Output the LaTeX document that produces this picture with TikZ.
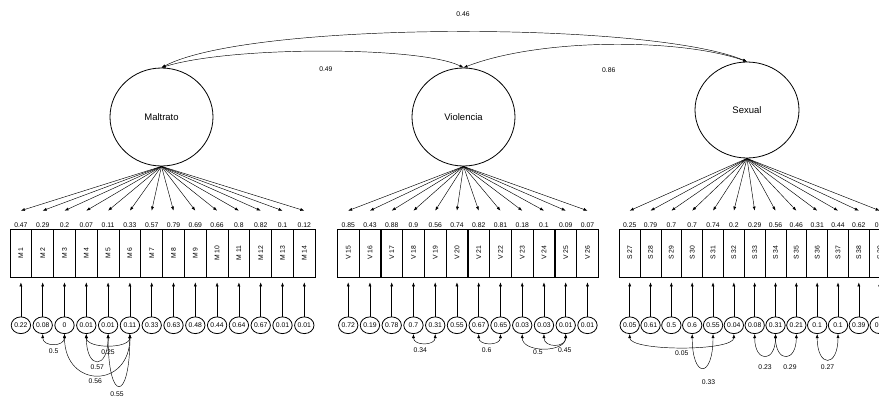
\documentclass[tikz,border=0pt]{standalone}
\usepackage{fontspec}
\setmainfont{Liberation Sans}
\usetikzlibrary{positioning,shapes.geometric,arrows.meta}
\newcommand{\smallnum}{\fontsize{6.8}{7}\selectfont}
\begin{document}
\begin{tikzpicture}[x=1pt,y=1pt,lab/.style={font=\smallnum,inner sep=.5pt}]
    \tikzstyle{lat} = [ellipse, draw, line width=.8pt, minimum width=103pt, minimum height=98pt, inner sep=0, font=\fontsize{9.5}{11}\selectfont]
    \tikzstyle{obs} = [rectangle, draw, line width=.7pt, minimum width=21.8pt, minimum height=48pt, inner sep=0, font=\smallnum, label distance=.5pt]
    \tikzstyle{sobs} = [obs, minimum width=20.83pt]
    \tikzstyle{err} = [ellipse, draw, line width=.8pt, minimum width=19.4pt, minimum height=16.7pt, inner sep=0, font=\smallnum]
    \tikzstyle{load} = [-{Latex[length=4pt,width=3pt]}, line width=.45pt]
    \tikzstyle{cov} = [{Latex[length=4pt,width=3pt]}-{Latex[length=4pt,width=3pt]}, line width=.45pt]
        \useasboundingbox (0,0) rectangle (879,-397);
        \clip (0,0) rectangle (879,-397);
        % factors
        \node[lat] (mal) at (161.5,-117) {Maltrato};
        \node[lat] (vio) at (463.5,-117) {Violencia};
        \node[lat,minimum width=104pt,minimum height=96pt] (sex) at (747,-110) {Sexual};
        \draw[cov] (mal.north) .. controls (250,-21) and (650,-21) .. (sex.north) node[lab,midway,above=15pt,xshift=12pt] {0.46};
        \draw[cov] (mal.north) .. controls (230,-46) and (420,-46) .. (vio.north) node[lab,midway,below=15pt,xshift=4pt] {0.49};
        \draw[cov] (vio.north) .. controls (540,-38) and (680,-38) .. (sex.north) node[lab,midway,below=22pt] {0.86};
        % Maltrato
        \node[obs,label={[lab]above:0.47}] (m1) at (20.9,-253) {\rotatebox{90}{M 1}};
        \draw[load] (mal.south) -- ([yshift=18pt]m1.north);
        \node[err,below=63.5pt] (e1) at (m1) {0.22};
        \draw[load] (e1) -- ([yshift=-5pt]m1.south);
        \node[obs,xshift=21.8pt,label={[lab]above:0.29}] (m2) at (m1) {\rotatebox{90}{M 2}};
        \draw[load] (mal.south) -- ([yshift=18pt]m2.north);
        \node[err,below=63.5pt] (e2) at (m2) {0.08};
        \draw[load] (e2) -- ([yshift=-5pt]m2.south);
        \node[obs,xshift=21.8pt,label={[lab]above:0.2}] (m3) at (m2) {\rotatebox{90}{M 3}};
        \draw[load] (mal.south) -- ([yshift=18pt]m3.north);
        \node[err,below=63.5pt] (e3) at (m3) {0};
        \draw[load] (e3) -- ([yshift=-5pt]m3.south);
        \node[obs,xshift=21.8pt,label={[lab]above:0.07}] (m4) at (m3) {\rotatebox{90}{M 4}};
        \draw[load] (mal.south) -- ([yshift=18pt]m4.north);
        \node[err,below=63.5pt] (e4) at (m4) {0.01};
        \draw[load] (e4) -- ([yshift=-5pt]m4.south);
        \node[obs,xshift=21.8pt,label={[lab]above:0.11}] (m5) at (m4) {\rotatebox{90}{M 5}};
        \draw[load] (mal.south) -- ([yshift=18pt]m5.north);
        \node[err,below=63.5pt] (e5) at (m5) {0.01};
        \draw[load] (e5) -- ([yshift=-5pt]m5.south);
        \node[obs,xshift=21.8pt,label={[lab]above:0.33}] (m6) at (m5) {\rotatebox{90}{M 6}};
        \draw[load] (mal.south) -- ([yshift=18pt]m6.north);
        \node[err,below=63.5pt] (e6) at (m6) {0.11};
        \draw[load] (e6) -- ([yshift=-5pt]m6.south);
        \node[obs,xshift=21.8pt,label={[lab]above:0.57}] (m7) at (m6) {\rotatebox{90}{M 7}};
        \draw[load] (mal.south) -- ([yshift=18pt]m7.north);
        \node[err,below=63.5pt] (e7) at (m7) {0.33};
        \draw[load] (e7) -- ([yshift=-5pt]m7.south);
        \node[obs,xshift=21.8pt,label={[lab]above:0.79}] (m8) at (m7) {\rotatebox{90}{M 8}};
        \draw[load] (mal.south) -- ([yshift=18pt]m8.north);
        \node[err,below=63.5pt] (e8) at (m8) {0.63};
        \draw[load] (e8) -- ([yshift=-5pt]m8.south);
        \node[obs,xshift=21.8pt,label={[lab]above:0.69}] (m9) at (m8) {\rotatebox{90}{M 9}};
        \draw[load] (mal.south) -- ([yshift=18pt]m9.north);
        \node[err,below=63.5pt] (e9) at (m9) {0.48};
        \draw[load] (e9) -- ([yshift=-5pt]m9.south);
        \node[obs,xshift=21.8pt,label={[lab]above:0.66}] (m10) at (m9) {\rotatebox{90}{M 10}};
        \draw[load] (mal.south) -- ([yshift=18pt]m10.north);
        \node[err,below=63.5pt] (e10) at (m10) {0.44};
        \draw[load] (e10) -- ([yshift=-5pt]m10.south);
        \node[obs,xshift=21.8pt,label={[lab]above:0.8}] (m11) at (m10) {\rotatebox{90}{M 11}};
        \draw[load] (mal.south) -- ([yshift=18pt]m11.north);
        \node[err,below=63.5pt] (e11) at (m11) {0.64};
        \draw[load] (e11) -- ([yshift=-5pt]m11.south);
        \node[obs,xshift=21.8pt,label={[lab]above:0.82}] (m12) at (m11) {\rotatebox{90}{M 12}};
        \draw[load] (mal.south) -- ([yshift=18pt]m12.north);
        \node[err,below=63.5pt] (e12) at (m12) {0.67};
        \draw[load] (e12) -- ([yshift=-5pt]m12.south);
        \node[obs,xshift=21.8pt,label={[lab]above:0.1}] (m13) at (m12) {\rotatebox{90}{M 13}};
        \draw[load] (mal.south) -- ([yshift=18pt]m13.north);
        \node[err,below=63.5pt] (e13) at (m13) {0.01};
        \draw[load] (e13) -- ([yshift=-5pt]m13.south);
        \node[obs,xshift=21.8pt,label={[lab]above:0.12}] (m14) at (m13) {\rotatebox{90}{M 14}};
        \draw[load] (mal.south) -- ([yshift=18pt]m14.north);
        \node[err,below=63.5pt] (e14) at (m14) {0.01};
        \draw[load] (e14) -- ([yshift=-5pt]m14.south);
        % Violencia
        \node[obs,label={[lab]above:0.85}] (v15) at (348.2,-253) {\rotatebox{90}{V 15}};
        \draw[load] (vio.south) -- ([yshift=18pt]v15.north);
        \node[err,below=63.5pt] (e15) at (v15) {0.72};
        \draw[load] (e15) -- ([yshift=-5pt]v15.south);
        \node[obs,xshift=21.75pt,label={[lab]above:0.43}] (v16) at (v15) {\rotatebox{90}{V 16}};
        \draw[load] (vio.south) -- ([yshift=18pt]v16.north);
        \node[err,below=63.5pt] (e16) at (v16) {0.19};
        \draw[load] (e16) -- ([yshift=-5pt]v16.south);
        \node[obs,xshift=21.75pt,label={[lab]above:0.88}] (v17) at (v16) {\rotatebox{90}{V 17}};
        \draw[load] (vio.south) -- ([yshift=18pt]v17.north);
        \node[err,below=63.5pt] (e17) at (v17) {0.78};
        \draw[load] (e17) -- ([yshift=-5pt]v17.south);
        \node[obs,xshift=21.75pt,label={[lab]above:0.9}] (v18) at (v17) {\rotatebox{90}{V 18}};
        \draw[load] (vio.south) -- ([yshift=18pt]v18.north);
        \node[err,below=63.5pt] (e18) at (v18) {0.7};
        \draw[load] (e18) -- ([yshift=-5pt]v18.south);
        \node[obs,xshift=21.75pt,label={[lab]above:0.56}] (v19) at (v18) {\rotatebox{90}{V 19}};
        \draw[load] (vio.south) -- ([yshift=18pt]v19.north);
        \node[err,below=63.5pt] (e19) at (v19) {0.31};
        \draw[load] (e19) -- ([yshift=-5pt]v19.south);
        \node[obs,xshift=21.75pt,label={[lab]above:0.74}] (v20) at (v19) {\rotatebox{90}{V 20}};
        \draw[load] (vio.south) -- ([yshift=18pt]v20.north);
        \node[err,below=63.5pt] (e20) at (v20) {0.55};
        \draw[load] (e20) -- ([yshift=-5pt]v20.south);
        \node[obs,xshift=21.75pt,label={[lab]above:0.82}] (v21) at (v20) {\rotatebox{90}{V 21}};
        \draw[load] (vio.south) -- ([yshift=18pt]v21.north);
        \node[err,below=63.5pt] (e21) at (v21) {0.67};
        \draw[load] (e21) -- ([yshift=-5pt]v21.south);
        \node[obs,xshift=21.75pt,label={[lab]above:0.81}] (v22) at (v21) {\rotatebox{90}{V 22}};
        \draw[load] (vio.south) -- ([yshift=18pt]v22.north);
        \node[err,below=63.5pt] (e22) at (v22) {0.65};
        \draw[load] (e22) -- ([yshift=-5pt]v22.south);
        \node[obs,xshift=21.75pt,label={[lab]above:0.18}] (v23) at (v22) {\rotatebox{90}{V 23}};
        \draw[load] (vio.south) -- ([yshift=18pt]v23.north);
        \node[err,below=63.5pt] (e23) at (v23) {0.03};
        \draw[load] (e23) -- ([yshift=-5pt]v23.south);
        \node[obs,xshift=21.75pt,label={[lab]above:0.1}] (v24) at (v23) {\rotatebox{90}{V 24}};
        \draw[load] (vio.south) -- ([yshift=18pt]v24.north);
        \node[err,below=63.5pt] (e24) at (v24) {0.03};
        \draw[load] (e24) -- ([yshift=-5pt]v24.south);
        \node[obs,xshift=21.75pt,label={[lab]above:0.09}] (v25) at (v24) {\rotatebox{90}{V 25}};
        \draw[load] (vio.south) -- ([yshift=18pt]v25.north);
        \node[err,below=63.5pt] (e25) at (v25) {0.01};
        \draw[load] (e25) -- ([yshift=-5pt]v25.south);
        \node[obs,xshift=21.75pt,label={[lab]above:0.07}] (v26) at (v25) {\rotatebox{90}{V 26}};
        \draw[load] (vio.south) -- ([yshift=18pt]v26.north);
        \node[err,below=63.5pt] (e26) at (v26) {0.01};
        \draw[load] (e26) -- ([yshift=-5pt]v26.south);
        % Sexual
        \node[sobs,label={[lab]above:0.25}] (s27) at (629.7,-253) {\rotatebox{90}{S 27}};
        \draw[load] (sex.south) -- ([yshift=18pt]s27.north);
        \node[err,below=63.5pt] (e27) at (s27) {0.05};
        \draw[load] (e27) -- ([yshift=-5pt]s27.south);
        \node[sobs,xshift=20.83pt,label={[lab]above:0.79}] (s28) at (s27) {\rotatebox{90}{S 28}};
        \draw[load] (sex.south) -- ([yshift=18pt]s28.north);
        \node[err,below=63.5pt] (e28) at (s28) {0.61};
        \draw[load] (e28) -- ([yshift=-5pt]s28.south);
        \node[sobs,xshift=20.83pt,label={[lab]above:0.7}] (s29) at (s28) {\rotatebox{90}{S 29}};
        \draw[load] (sex.south) -- ([yshift=18pt]s29.north);
        \node[err,below=63.5pt] (e29) at (s29) {0.5};
        \draw[load] (e29) -- ([yshift=-5pt]s29.south);
        \node[sobs,xshift=20.83pt,label={[lab]above:0.7}] (s30) at (s29) {\rotatebox{90}{S 30}};
        \draw[load] (sex.south) -- ([yshift=18pt]s30.north);
        \node[err,below=63.5pt] (e30) at (s30) {0.6};
        \draw[load] (e30) -- ([yshift=-5pt]s30.south);
        \node[sobs,xshift=20.83pt,label={[lab]above:0.74}] (s31) at (s30) {\rotatebox{90}{S 31}};
        \draw[load] (sex.south) -- ([yshift=18pt]s31.north);
        \node[err,below=63.5pt] (e31) at (s31) {0.55};
        \draw[load] (e31) -- ([yshift=-5pt]s31.south);
        \node[sobs,xshift=20.83pt,label={[lab]above:0.2}] (s32) at (s31) {\rotatebox{90}{S 32}};
        \draw[load] (sex.south) -- ([yshift=18pt]s32.north);
        \node[err,below=63.5pt] (e32) at (s32) {0.04};
        \draw[load] (e32) -- ([yshift=-5pt]s32.south);
        \node[sobs,xshift=20.83pt,label={[lab]above:0.29}] (s33) at (s32) {\rotatebox{90}{S 33}};
        \draw[load] (sex.south) -- ([yshift=18pt]s33.north);
        \node[err,below=63.5pt] (e33) at (s33) {0.08};
        \draw[load] (e33) -- ([yshift=-5pt]s33.south);
        \node[sobs,xshift=20.83pt,label={[lab]above:0.56}] (s34) at (s33) {\rotatebox{90}{S 34}};
        \draw[load] (sex.south) -- ([yshift=18pt]s34.north);
        \node[err,below=63.5pt] (e34) at (s34) {0.31};
        \draw[load] (e34) -- ([yshift=-5pt]s34.south);
        \node[sobs,xshift=20.83pt,label={[lab]above:0.46}] (s35) at (s34) {\rotatebox{90}{S 35}};
        \draw[load] (sex.south) -- ([yshift=18pt]s35.north);
        \node[err,below=63.5pt] (e35) at (s35) {0.21};
        \draw[load] (e35) -- ([yshift=-5pt]s35.south);
        \node[sobs,xshift=20.83pt,label={[lab]above:0.31}] (s36) at (s35) {\rotatebox{90}{S 36}};
        \draw[load] (sex.south) -- ([yshift=18pt]s36.north);
        \node[err,below=63.5pt] (e36) at (s36) {0.1};
        \draw[load] (e36) -- ([yshift=-5pt]s36.south);
        \node[sobs,xshift=20.83pt,label={[lab]above:0.44}] (s37) at (s36) {\rotatebox{90}{S 37}};
        \draw[load] (sex.south) -- ([yshift=18pt]s37.north);
        \node[err,below=63.5pt] (e37) at (s37) {0.1};
        \draw[load] (e37) -- ([yshift=-5pt]s37.south);
        \node[sobs,xshift=20.83pt,label={[lab]above:0.62}] (s38) at (s37) {\rotatebox{90}{S 38}};
        \draw[load] (sex.south) -- ([yshift=18pt]s38.north);
        \node[err,below=63.5pt] (e38) at (s38) {0.39};
        \draw[load] (e38) -- ([yshift=-5pt]s38.south);
        \node[sobs,xshift=20.83pt,label={[lab]above:0.6}] (s39) at (s38) {\rotatebox{90}{S 39}};
        \draw[load] (sex.south) -- ([yshift=18pt]s39.north);
        \node[err,below=63.5pt] (e39) at (s39) {0.1};
        \draw[load] (e39) -- ([yshift=-5pt]s39.south);
        %%% error covariances
        % Maltrato
        \draw[cov] (e2.south) to[out=-90,in=-90,distance=13pt] node[lab,below=4pt] {0.5} (e3.south);
        \draw[cov] (e4.south) to[out=-90,in=-90,distance=15pt] node[lab,below=4pt] {0.25} (e6.south);
        \draw[cov] (e4.south) to[out=-90,in=-90,distance=36pt] node[lab,below=3pt] {0.57} (e5.south);
        \draw[cov] (e3.south) to[out=-90,in=-90,distance=55pt] node[lab,below=3pt,xshift=-2pt] {0.56} (e6.south);
        \draw[cov] (e5.south) to[out=-90,in=-90,distance=69pt] node[lab,below=5pt,xshift=-2pt] {0.55} (e6.south);
        % Violencia
        \draw[cov] (e18.south) to[out=-90,in=-90,distance=12pt] node[lab,below=4pt,xshift=-4pt] {0.34} (e19.south);
        \draw[cov] (e21.south) to[out=-90,in=-90,distance=12pt] node[lab,below=4pt,xshift=-3pt] {0.6} (e22.south);
        \draw[cov] (e23.south) to[out=-90,in=-90,distance=19pt] node[lab,below=1pt,xshift=-6pt] {0.5} (e25.south);
        \draw[cov] (e24.south) to[out=-90,in=-90,distance=14pt] node[lab,below=3pt,xshift=10pt] {0.45} (e25.south);
        % Sexual
        \draw[cov] (e27.south) to[out=-90,in=-90,distance=17.5pt] node[lab,below=3pt] {0.05} (e32.south);
        \draw[cov] (e30.south) to[out=-90,in=-90,distance=45pt] node[lab,below=11pt,xshift=6pt] {0.33} (e31.south);
        \draw[cov] (e33.south) to[out=-90,in=-90,distance=29pt] node[lab,below=8pt] {0.23} (e34.south);
        \draw[cov] (e34.south) to[out=-90,in=-90,distance=29pt] node[lab,below=8pt,xshift=4pt] {0.29} (e35.south);
        \draw[cov] (e36.south) to[out=-90,in=-90,distance=34pt] node[lab,below=5pt] {0.27} (e37.south);
\end{tikzpicture}
\end{document}
